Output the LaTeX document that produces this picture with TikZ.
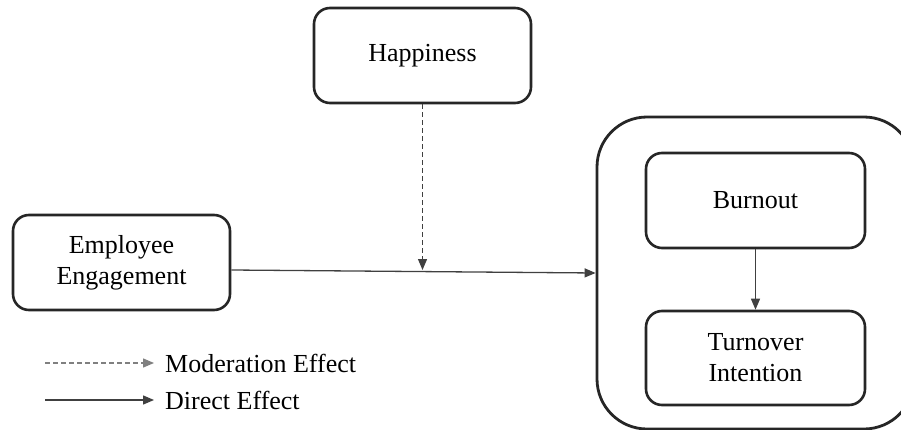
\documentclass[tikz,border=0pt]{standalone}
\usepackage{fontspec}
\setmainfont{Liberation Serif}
\usetikzlibrary{arrows.meta}
\begin{document}
\begin{tikzpicture}[x=1pt,y=-1pt,
  box/.style={draw=black!85,line width=2.6pt,rounded corners=16pt,align=center,
    minimum width=217pt,minimum height=95pt,inner sep=0pt,
    font=\fontsize{26}{31}\selectfont},
  conn/.style={draw=black!75,line width=1.3pt,-{Triangle[length=11pt,width=9pt]}},
  lbl/.style={anchor=west,inner sep=0pt,font=\fontsize{26}{31}\selectfont}]
\useasboundingbox (0,0) rectangle (901,430);
\begin{scope}
\clip (0,0) rectangle (901,430);
\node[box] (hap) at (422.5,55.5) {Happiness};
\node[box] (ee) at (121.5,262.5) {Employee\\Engagement};
\node[draw=black!85,line width=2.8pt,rounded corners=50pt,minimum width=317pt,minimum height=312pt,inner sep=0pt] (outer) at (755.5,273) {};
\node[box,minimum width=219pt] (burn) at (755.5,200.5) {Burnout};
\node[box,minimum width=219pt,minimum height=94pt] (turn) at (755.5,358) {Turnover\\Intention};
\draw[conn] ([yshift=-7.5pt]ee.east) -- (outer.west);
\coordinate (m) at (422.5,270);
\draw[conn,dashed,dash pattern=on 5pt off 3pt] (hap.south) -- (m);
\draw[conn] (burn.south) -- (turn.north);
\node[lbl] (lm) at (165,363) {Moderation Effect};
\node[lbl] (ld) at (165,400) {Direct Effect};
\coordinate (s1) at (45,363);
\coordinate (s2) at (45,400);
\draw[conn,draw=black!50,dash pattern=on 5pt off 3pt] (s1) -- ([xshift=-11pt]lm.west);
\draw[conn] (s2) -- ([xshift=-11pt]ld.west);
\end{scope}
\end{tikzpicture}
\end{document}
